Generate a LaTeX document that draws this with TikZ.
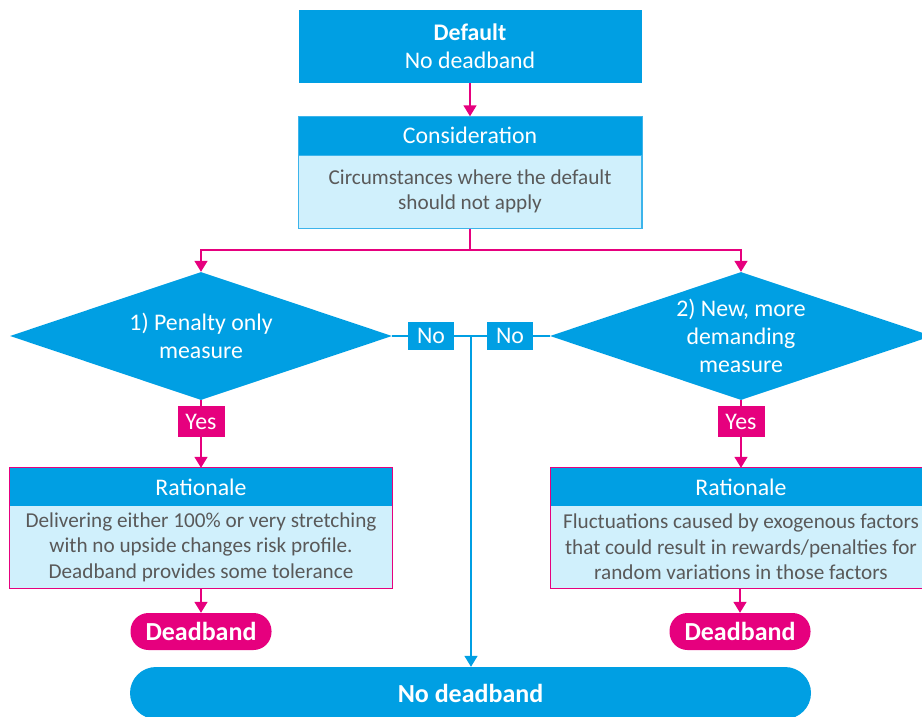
\documentclass[tikz,border=0pt]{standalone}
\usepackage{fontspec}
\setmainfont{Carlito}
\usetikzlibrary{shapes.geometric,arrows.meta}
\definecolor{brandblue}{RGB}{0,159,227}
\definecolor{edgeblue}{RGB}{60,180,235}
\definecolor{paleblue}{RGB}{208,240,252}
\definecolor{brandpink}{RGB}{230,0,126}
\definecolor{bodygray}{RGB}{89,89,89}
\newcommand{\txt}{\fontsize{21.2}{25.5}\selectfont}
\newcommand{\headtxt}{\fontsize{23.8}{28}\selectfont}
\newcommand{\bigtxt}{\fontsize{26}{30}\selectfont\bfseries}
\tikzset{
  titlebox/.style={rectangle, fill=brandblue, text=white, inner sep=0pt,
    minimum width=343pt, minimum height=73pt, align=center, font=\headtxt},
  headbar/.style={rectangle, fill=brandblue, text=white, inner sep=0pt,
    minimum height=38pt, align=center, font=\headtxt},
  bodybox/.style={rectangle, fill=paleblue, text=bodygray, inner sep=0pt,
    align=center, font=\txt},
  decision/.style={diamond, fill=brandblue, inner sep=0pt,
    minimum width=382pt, minimum height=128pt},
  dtext/.style={text=white, align=center, font=\headtxt},
  notag/.style={rectangle, fill=brandblue, text=white, inner sep=0pt,
    minimum width=46pt, minimum height=28pt, font=\headtxt},
  yestag/.style={rectangle, fill=brandpink, text=white, inner sep=0pt,
    minimum width=47pt, minimum height=31pt, font=\headtxt},
  pill/.style={rectangle, rounded corners=18pt, fill=brandpink, text=white,
    inner sep=0pt, minimum width=141pt, minimum height=37pt, font=\bigtxt},
  endpill/.style={rectangle, rounded corners=26pt, fill=brandblue, text=white,
    inner sep=0pt, minimum width=681pt, minimum height=52pt, font=\bigtxt},
  pinkline/.style={draw=brandpink, line width=1.6pt},
  pinkflow/.style={pinkline, -{Triangle[length=11pt,width=13pt]}},
  blueline/.style={draw=brandblue, line width=1.5pt},
  blueflow/.style={blueline, -{Triangle[length=11pt,width=13pt]}},
}
\begin{document}
\begin{tikzpicture}[x=1pt,y=-1pt]
\useasboundingbox (0,0) rectangle (922,717);

% top of the flow
\node[titlebox] (def) at (470,46.5) {\textbf{Default}\\No deadband};
\node[headbar, minimum width=343pt] (conh) at (470,135.5) {Consideration};
\node[bodybox, minimum width=343pt, minimum height=73pt, draw=edgeblue, line width=1pt]
  (conb) at (470,191.5) {Circumstances where the default\\should not apply};
\draw[edgeblue, line width=1pt] (conh.north west) rectangle (conb.south east);

% the two questions
\node[decision] (d1) at (201,336) {};
\node[dtext] at (d1) {1) Penalty only\\measure};
\node[decision] (d2) at (741,336) {};
\node[dtext] at (d2) {2) New, more\\demanding\\measure};

\node[notag] (no1) at (431,336) {No};
\node[notag] (no2) at (510,336) {No};
\node[yestag] (yes1) at (201,421.5) {Yes};
\node[yestag] (yes2) at (741,421.5) {Yes};

% rationale panels
\node[headbar, minimum width=382pt] (r1h) at (201,487) {Rationale};
\node[bodybox, minimum width=382pt, minimum height=82pt] (r1b) at (201,547)
  {Delivering either 100\% or very stretching\\with no upside changes risk profile.\\Deadband provides some tolerance};
\draw[brandpink, line width=1.3pt] (r1h.north west) rectangle (r1b.south east);

\node[headbar, minimum width=380pt] (r2h) at (741,487) {Rationale};
\node[bodybox, minimum width=380pt, minimum height=82pt] (r2b) at (741,547)
  {Fluctuations caused by exogenous factors\\that could result in rewards/penalties for\\random variations in those factors};
\draw[brandpink, line width=1.3pt] (r2h.north west) rectangle (r2b.south east);

% outcomes
\node[pill] (db1) at (201,631.5) {Deadband};
\node[pill] (db2) at (740,631.5) {Deadband};
\node[endpill] (nodb) at (470.5,693) {No deadband};

% connectors
\coordinate (split) at (470,250);
\coordinate (join) at (471,336);
\draw[pinkflow] (def.south) -- (conh.north);
\draw[pinkline] (conb.south) -- (split);
\draw[pinkflow] (split) -| (d1.north);
\draw[pinkflow] (split) -| (d2.north);
\draw[pinkline] (d1.south) -- (yes1.north);
\draw[pinkline] (d2.south) -- (yes2.north);
\draw[pinkflow] (yes1.south) -- (r1h.north);
\draw[pinkflow] (yes2.south) -- (r2h.north);
\draw[pinkflow] (r1b.south) -- (db1.north);
\draw[pinkflow] (r2b.south -| db2.north) -- (db2.north);

\draw[blueline] (d1.east) -- (no1.west);
\draw[blueline] (no1.east) -- (join);
\draw[blueline] (d2.west) -- (no2.east);
\draw[blueline] (no2.west) -- (join);
\draw[blueflow] (join) -- (join |- nodb.north);
\end{tikzpicture}
\end{document}
